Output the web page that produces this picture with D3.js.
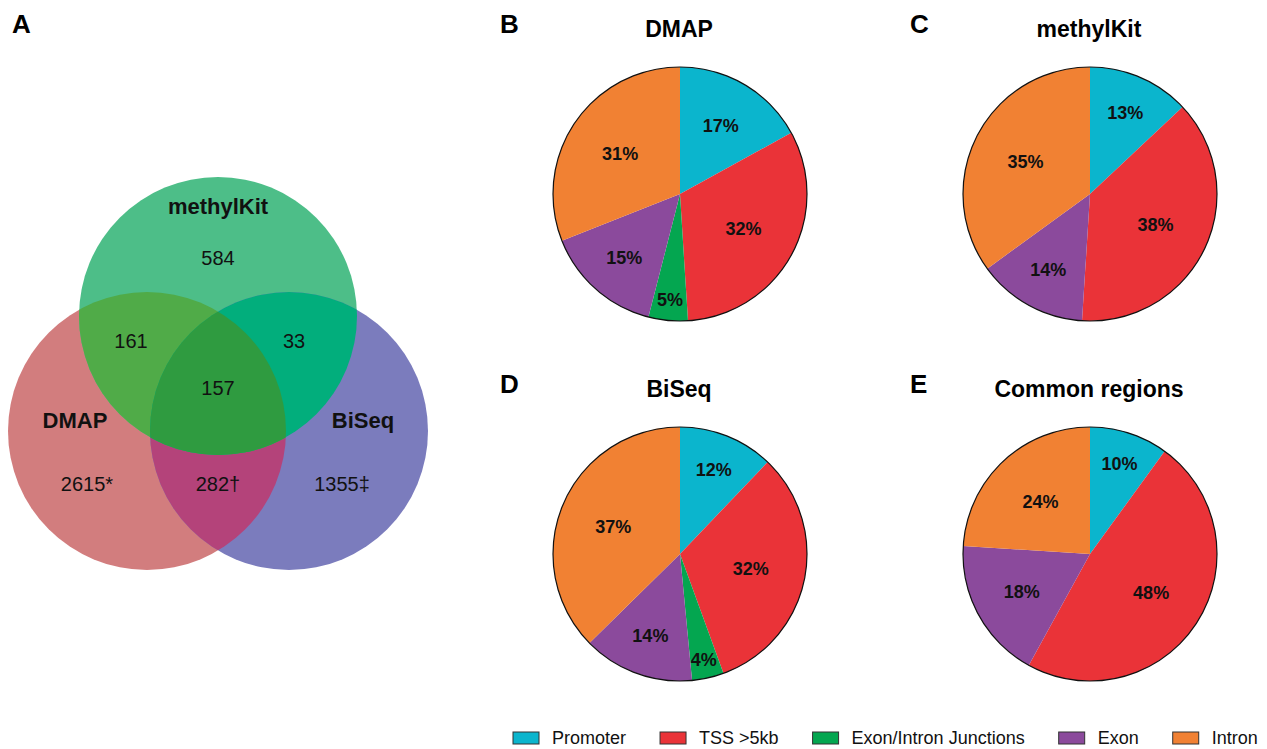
<!DOCTYPE html>
<html>
<head>
<meta charset="utf-8">
<script src="https://cdn.jsdelivr.net/npm/d3@7"></script>
<style>
  html, body { margin: 0; padding: 0; background: #fff; }
  svg { display: block; font-family: "Liberation Sans", Arial, Helvetica, sans-serif; }
</style>
</head>
<body>
<svg id="chart" width="1267" height="749"></svg>
<script>
// ---------- DATA ----------
const vennSets = ["DMAP", "methylKit", "BiSeq"];
const vennOnlyCounts = ["2615*", "584", "1355‡"];          // DMAP only, methylKit only, BiSeq only
const vennPairCounts = ["161", "33", "282†"];             // DMAP∩methylKit, methylKit∩BiSeq, DMAP∩BiSeq
const vennTripleCount = "157";

const categories = ["Promoter", "TSS >5kb", "Exon/Intron Junctions", "Exon", "Intron"];
const categoryColors = ["#0bb5cd", "#ea3338", "#04a650", "#8b4a9c", "#f18133"];

const panelLetters = ["B", "C", "D", "E"];
const pieTitles = ["DMAP", "methylKit", "BiSeq", "Common regions"];
const dmapValues      = [17, 32, 5, 15, 31];
const methylKitValues = [13, 38, 0, 14, 35];
const biseqValues     = [12, 32, 4, 14, 37];
const commonValues    = [10, 48, 0, 18, 24];
const pieValues = [dmapValues, methylKitValues, biseqValues, commonValues];

// ---------- DRAW ----------
const svg = d3.select("#chart");

// Panel A letter
svg.append("text").attr("x", 12).attr("y", 33)
  .attr("font-size", 26).attr("font-weight", "bold").text("A");

// ---------- Venn ----------
const R = 139;
const cx = d3.scaleLinear().domain([0, 1]).range([147, 289]);   // left/right circle centres
const cy = d3.scaleLinear().domain([0, 1]).range([316, 431]);   // top/bottom rows
const circ = {
  DMAP: {x: cx(0), y: cy(1)},
  methylKit: {x: cx(0.5), y: cy(0)},
  BiSeq: {x: cx(1), y: cy(1)}
};
const defs = svg.append("defs");
vennSets.forEach(s => {
  defs.append("clipPath").attr("id", "clip-" + s)
    .append("circle").attr("cx", circ[s].x).attr("cy", circ[s].y).attr("r", R);
});
const venn = svg.append("g");
const singleColors = {DMAP: "#d27d7e", methylKit: "#4dbe88", BiSeq: "#7b7cbd"};
vennSets.forEach(s => {
  venn.append("circle").attr("cx", circ[s].x).attr("cy", circ[s].y).attr("r", R)
    .attr("fill", singleColors[s]);
});
function clipped(parent, clipSet, drawSet, color) {
  parent.append("g").attr("clip-path", `url(#clip-${clipSet})`)
    .append("circle").attr("cx", circ[drawSet].x).attr("cy", circ[drawSet].y).attr("r", R)
    .attr("fill", color);
}
clipped(venn, "DMAP", "BiSeq", "#b4437a");
clipped(venn, "DMAP", "methylKit", "#50ab48");
clipped(venn, "BiSeq", "methylKit", "#02ae7c");
const tg = venn.append("g").attr("clip-path", "url(#clip-BiSeq)");
clipped(tg, "DMAP", "methylKit", "#2f9b40");

const vt = svg.append("g").attr("fill", "#111");
function vtext(x, y, t, bold) {
  vt.append("text").attr("x", x).attr("y", y).attr("text-anchor", "middle")
    .attr("dy", "0.35em").attr("font-size", bold ? 22 : 20)
    .attr("font-weight", bold ? "bold" : "normal").text(t);
}
const D = circ.DMAP, M = circ.methylKit, B = circ.BiSeq;
vtext(M.x, M.y - 110, vennSets[1], true);
vtext(D.x - 72, D.y - 11, vennSets[0], true);
vtext(B.x + 74, D.y - 11, vennSets[2], true);
vtext(D.x - 60, D.y + 53, vennOnlyCounts[0]);
vtext(M.x, M.y - 58, vennOnlyCounts[1]);
vtext(B.x + 53, B.y + 53, vennOnlyCounts[2]);
vtext(D.x - 16, D.y - 90, vennPairCounts[0]);
vtext(B.x + 5, B.y - 90, vennPairCounts[1]);
vtext(M.x, D.y + 53, vennPairCounts[2]);
vtext(M.x, M.y + 72, vennTripleCount);

// ---------- Pies ----------
const pr = 127;
const pieCX = d3.scaleOrdinal().domain([0, 1]).range([680, 1090]);
const pieCY = d3.scaleOrdinal().domain([0, 1]).range([194, 554]);
const pie = d3.pie().sort(null).value(d => d);
const arc = d3.arc().innerRadius(0).outerRadius(pr);

pieValues.forEach((vals, i) => {
  const col = i % 2, row = Math.floor(i / 2);
  const x0 = pieCX(col), y0 = pieCY(row);
  svg.append("text").attr("x", x0 - 180).attr("y", y0 - 161)
    .attr("font-size", 26).attr("font-weight", "bold").text(panelLetters[i]);
  svg.append("text").attr("x", x0 - 1).attr("y", y0 - 157).attr("text-anchor", "middle")
    .attr("font-size", 23).attr("font-weight", "bold").text(pieTitles[i]);
  const g = svg.append("g").attr("transform", `translate(${x0},${y0})`);
  const arcs = pie(vals);
  g.selectAll("path").data(arcs).join("path")
    .attr("d", arc).attr("fill", (d, j) => categoryColors[j]);
  g.append("circle").attr("r", pr).attr("fill", "none").attr("stroke", "#111").attr("stroke-width", 1.2);
  g.selectAll("text.lbl").data(arcs.filter(d => d.data > 0)).join("text")
    .attr("class", "lbl")
    .attr("transform", d => {
      const a = (d.startAngle + d.endAngle) / 2;
      const f = Math.max(0.57, 0.92 - 0.017 * d.data);
      return `translate(${Math.sin(a) * pr * f},${-Math.cos(a) * pr * f})`;
    })
    .attr("text-anchor", "middle").attr("dy", "0.36em")
    .attr("font-size", 18).attr("font-weight", "bold").attr("fill", "#111")
    .text(d => d.data + "%");
});

// ---------- Legend ----------
const leg = svg.append("g");
let lx = 513;
categories.forEach((c, i) => {
  leg.append("rect").attr("x", lx).attr("y", 732).attr("width", 26).attr("height", 12)
    .attr("fill", categoryColors[i]).attr("stroke", "#333").attr("stroke-width", 1);
  const t = leg.append("text").attr("x", lx + 39).attr("y", 744)
    .attr("font-size", 18).attr("fill", "#111").text(c);
  lx = lx + 39 + t.node().getComputedTextLength() + 34;
});
</script>
</body>
</html>
